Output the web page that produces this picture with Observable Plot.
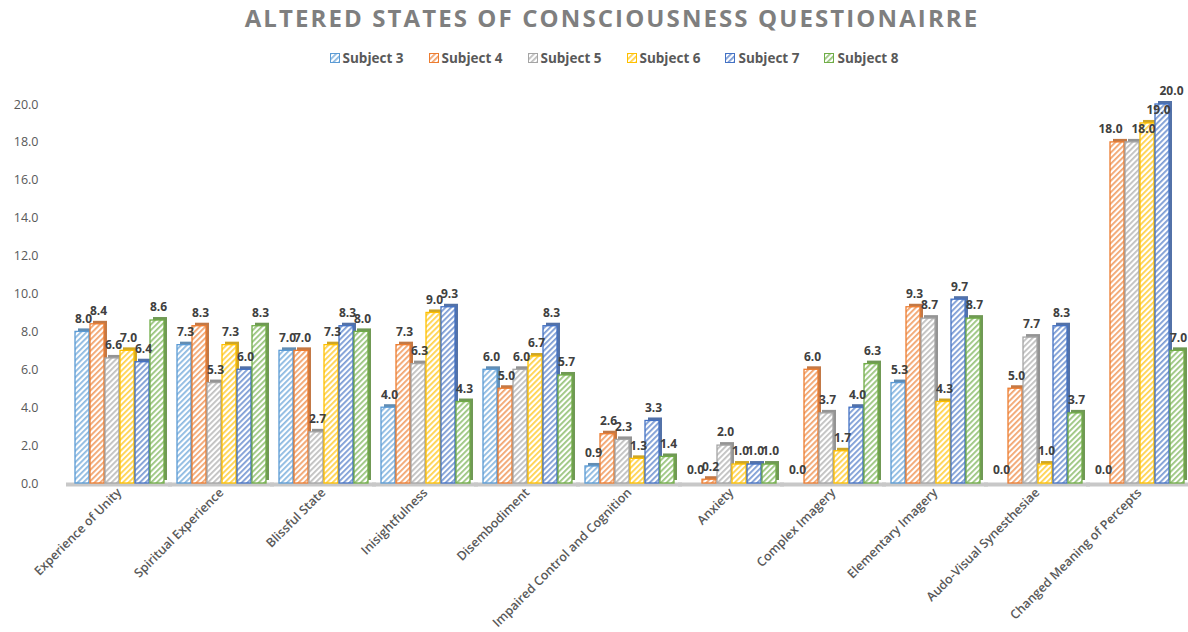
<!DOCTYPE html>
<html>
<head>
<meta charset="utf-8">
<script src="https://cdn.jsdelivr.net/npm/d3@7"></script>
<script src="https://cdn.jsdelivr.net/npm/@observablehq/plot@0.6"></script>
<style>
  body { margin: 0; background: #fff; font-family: "Open Sans", sans-serif; }
  #wrap { width: 1188px; }
  #title { height: 40px; line-height: 36px; text-align: center; font-size: 24px; font-weight: 700; color: #7f7f7f; letter-spacing: 2.1px; padding-left: 36px; box-sizing: border-box; }
  #legend { height: 35px; display: flex; justify-content: center; align-items: center; gap: 25px; font-size: 13.5px; font-weight: 700; color: #595959; padding-left: 40px; box-sizing: border-box; }
  #legend .item { display: flex; align-items: center; gap: 3px; }
  #chart svg { display: block; }
  g[aria-label="fx-axis tick label"] text { font-weight: 600; fill: #595959; font-size: 12.5px; }
  g[aria-label="y-axis tick label"] text { fill: #595959; font-size: 12.5px; }
</style>
</head>
<body>
<svg width="0" height="0" style="position:absolute">
  <defs id="defs"></defs>
</svg>
<div id="wrap">
  <div id="title">ALTERED STATES OF CONSCIOUSNESS QUESTIONAIRRE</div>
  <div id="legend"></div>
  <div id="chart"></div>
</div>
<script>
const categories = ["Experience of Unity", "Spiritual Experience", "Blissful State", "Inisightfulness", "Disembodiment", "Impaired Control and Cognition", "Anxiety", "Complex Imagery", "Elementary Imagery", "Audo-Visual Synesthesiae", "Changed Meaning of Percepts"];
const subjects = ["Subject 3", "Subject 4", "Subject 5", "Subject 6", "Subject 7", "Subject 8"];
const subject3 = [8.0, 7.3, 7.0, 4.0, 6.0, 0.9, 0.0, 0.0, 5.3, 0.0, 0.0];
const subject4 = [8.4, 8.3, 7.0, 7.3, 5.0, 2.6, 0.2, 6.0, 9.3, 5.0, 18.0];
const subject5 = [6.6, 5.3, 2.7, 6.3, 6.0, 2.3, 2.0, 3.7, 8.7, 7.7, 18.0];
const subject6 = [7.0, 7.3, 7.3, 9.0, 6.7, 1.3, 1.0, 1.7, 4.3, 1.0, 19.0];
const subject7 = [6.4, 6.0, 8.3, 9.3, 8.3, 3.3, 1.0, 4.0, 9.7, 8.3, 20.0];
const subject8 = [8.6, 8.3, 8.0, 4.3, 5.7, 1.4, 1.0, 6.3, 8.7, 3.7, 7.0];
const yTicks = [0, 2, 4, 6, 8, 10, 12, 14, 16, 18, 20];
const colors = ["#5b9bd5", "#ed7d31", "#a5a5a5", "#ffc000", "#4472c4", "#70ad47"];

const series = [subject3, subject4, subject5, subject6, subject7, subject8];
// label nudges (styling) for the crowded last group, by subject index
const lastGroup = "Changed Meaning of Percepts";
const lastGroupNudge = [0, -8, 10, 10, 8, 0];

// hatch patterns
const defs = document.getElementById("defs");
colors.forEach((c, i) => {
  defs.insertAdjacentHTML("beforeend",
    `<pattern id="hatch${i}" patternUnits="userSpaceOnUse" width="4" height="4" patternTransform="rotate(45)">
       <rect width="4" height="4" fill="#ffffff"/>
       <rect width="1.8" height="4" fill="${c}" fill-opacity="0.7"/>
     </pattern>`);
});

// legend
const legend = document.getElementById("legend");
subjects.forEach((s, i) => {
  legend.insertAdjacentHTML("beforeend",
    `<div class="item"><svg width="10" height="10"><rect x="0.5" y="0.5" width="9" height="9" fill="url(#hatch${i})" stroke="${colors[i]}" stroke-width="1"/></svg><span>${s}</span></div>`);
});

const rowsBySubject = subjects.map((s, j) => categories.map((c, i) => ({category: c, subject: s, value: series[j][i]})));

const marks = [
  Plot.ruleY([0], {stroke: "#c8c8c8", strokeWidth: 4, insetLeft: -6, insetRight: -6, dy: 1})
];
subjects.forEach((s, j) => {
  const rows = rowsBySubject[j];
  const dark = d3.color(colors[j]).darker(0.7).formatHex();
  marks.push(
    Plot.barY(rows, {fx: "category", x: "subject", y: "value", fill: dark, dx: 3, dy: -3, fillOpacity: 0.85}),
    Plot.barY(rows, {fx: "category", x: "subject", y: "value", fill: `url(#hatch${j})`, stroke: colors[j], strokeWidth: 1.3})
  );
});
subjects.forEach((s, j) => {
  const rows = rowsBySubject[j];
  const labelStyle = {fx: "category", x: "subject", y: "value", text: d => d.value.toFixed(1), dy: -13, fill: "#404040", fontWeight: 700, fontSize: 12};
  marks.push(
    Plot.text(rows.filter(d => d.category !== lastGroup), {...labelStyle, dx: 1}),
    Plot.text(rows.filter(d => d.category === lastGroup), {...labelStyle, dx: 1 + lastGroupNudge[j]})
  );
});

const chart = Plot.plot({
  width: 1188,
  height: 557,
  marginLeft: 69,
  marginRight: 0,
  marginTop: 29,
  marginBottom: 149,
  style: {fontFamily: "Open Sans, sans-serif", fontSize: "12px", color: "#595959", background: "#fff"},
  fx: {domain: categories, padding: 0.08, tickRotate: -45, tickSize: 0, tickPadding: 7, label: null},
  x: {domain: subjects, axis: null, padding: 0.1},
  y: {domain: [0, 20], ticks: yTicks, tickFormat: d => d.toFixed(1), tickSize: 0, tickPadding: 34, label: null},
  marks
});
document.getElementById("chart").appendChild(chart);
</script>
</body>
</html>
